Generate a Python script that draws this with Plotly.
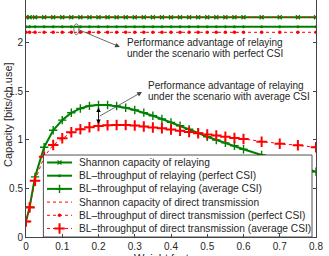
import plotly.graph_objects as go

# ---- data ----
rho = [0, 0.01, 0.025, 0.05, 0.075, 0.1, 0.125, 0.15, 0.175, 0.2, 0.225, 0.25,
       0.275, 0.3, 0.325, 0.35, 0.375, 0.4, 0.425, 0.45, 0.475, 0.5, 0.525,
       0.55, 0.575, 0.6, 0.65, 0.7, 0.75, 0.8]
shannon_relay_value = 2.265
bl_relay_perfect_value = 2.168
shannon_direct_value = 2.265
bl_direct_perfect_value = 2.11
bl_relay_average = [0.16, 0.31, 0.62, 0.925, 1.10, 1.205, 1.28, 1.325, 1.352, 1.36,
                    1.36, 1.35, 1.333, 1.309, 1.282, 1.25, 1.216, 1.182, 1.147, 1.11,
                    1.072, 1.034, 1.0, 0.97, 0.94, 0.905, 0.845, 0.785, 0.728, 0.673]
bl_direct_average = [0.16, 0.305, 0.58, 0.828, 0.948, 1.017, 1.079, 1.11, 1.131, 1.144,
                     1.152, 1.155, 1.155, 1.15, 1.14, 1.13, 1.12, 1.108, 1.095, 1.082,
                     1.07, 1.057, 1.045, 1.034, 1.02, 1.01, 0.983, 0.962, 0.945, 0.925]
x_ticks = [0, 0.1, 0.2, 0.3, 0.4, 0.5, 0.6, 0.7, 0.8]
x_tick_labels = ["0", "0.1", "0.2", "0.3", "0.4", "0.5", "0.6", "0.7", "0.8"]
y_ticks = [0, 0.5, 1, 1.5, 2]
y_tick_labels = ["0", "0.5", "1", "1.5", "2"]
legend_labels = [
    "Shannon capacity of relaying",
    "BL–throughput of relaying (perfect CSI)",
    "BL–throughput of relaying (average CSI)",
    "Shannon capacity of direct transmission",
    "BL–throughput of direct transmission (perfect CSI)",
    "BL–throughput of direct transmission (average CSI)",
]

GREEN = "#008000"
RED = "#ff0000"
FONT = "Liberation Sans, Arial, Helvetica, sans-serif"
TXT = "#262626"

styles = [
    dict(color=GREEN, dash="solid", width=2, symbol="x-thin", msize=4, mlw=1.2),
    dict(color=GREEN, dash="solid", width=2, symbol="circle", msize=3, mlw=0),
    dict(color=GREEN, dash="solid", width=2, symbol="cross-thin", msize=6, mlw=1.4),
    dict(color=RED, dash="dot", width=1, symbol=None, msize=0, mlw=0),
    dict(color=RED, dash="dot", width=1, symbol="circle", msize=3.5, mlw=0),
    dict(color=RED, dash="dot", width=1, symbol="cross-thin", msize=7.5, mlw=2),
]

series = [
    [shannon_relay_value] * len(rho),
    [bl_relay_perfect_value] * len(rho),
    bl_relay_average,
    [shannon_direct_value] * len(rho),
    [bl_direct_perfect_value] * len(rho),
    bl_direct_average,
]

fig = go.Figure()


def marker_for(s):
    if s["symbol"] is None:
        return None
    return dict(symbol=s["symbol"], size=s["msize"], color=s["color"],
                line=dict(color=s["color"], width=s["mlw"]))


for s, ys in zip(styles, series):
    mode = "lines+markers" if s["symbol"] else "lines"
    fig.add_trace(go.Scatter(
        x=rho, y=ys, mode=mode,
        line=dict(color=s["color"], dash=s["dash"], width=s["width"]),
        marker=marker_for(s), showlegend=False, hoverinfo="skip"))

# ---- hand-drawn legend box (covers curves like the original) ----
lx0, lx1, ly0, ly1 = 0.048, 0.789, 0.0, 0.845
fig.add_trace(go.Scatter(
    x=[lx0, lx1, lx1, lx0, lx0], y=[ly0, ly0, ly1, ly1, ly0],
    mode="lines", fill="toself", fillcolor="white",
    line=dict(color=TXT, width=0.8), showlegend=False, hoverinfo="skip"))

row_y = [0.768, 0.632, 0.496, 0.360, 0.224, 0.088]
sx0, sx1 = 0.058, 0.127
for s, ry, lab in zip(styles, row_y, legend_labels):
    fig.add_trace(go.Scatter(
        x=[sx0, sx1], y=[ry, ry], mode="lines",
        line=dict(color=s["color"], dash=s["dash"], width=s["width"]),
        showlegend=False, hoverinfo="skip"))
    if s["symbol"]:
        fig.add_trace(go.Scatter(
            x=[(sx0 + sx1) / 2], y=[ry], mode="markers",
            marker=marker_for(s), showlegend=False, hoverinfo="skip"))
    fig.add_annotation(x=0.141, y=ry, xref="x", yref="y", text=lab,
                       showarrow=False, xanchor="left", yanchor="middle",
                       font=dict(family=FONT, size=10.2, color=TXT))

# ---- annotations ----
ann_font = dict(family=FONT, size=10, color=TXT)
# perfect CSI
fig.add_shape(type="circle", xref="x", yref="y", x0=0.132, x1=0.146, y0=2.085, y1=2.197,
              line=dict(color="#555555", width=0.8))
fig.add_annotation(x=0.259, y=1.959, ax=0.141, ay=2.144, xref="x", yref="y",
                   axref="x", ayref="y", text="", showarrow=True, arrowhead=2,
                   arrowsize=1.2, arrowwidth=0.8, arrowcolor="#444444")
fig.add_annotation(x=0.273, y=2.003, xref="x", yref="y", text="Performance advantage of relaying",
                   showarrow=False, xanchor="left", yanchor="middle", font=ann_font)
fig.add_annotation(x=0.273, y=1.894, xref="x", yref="y", text="under the scenario with perfect CSI",
                   showarrow=False, xanchor="left", yanchor="middle", font=ann_font)
# average CSI
fig.add_annotation(x=0.2, y=1.165, ax=0.2, ay=1.35, xref="x", yref="y",
                   axref="x", ayref="y", text="", showarrow=True, arrowhead=2,
                   arrowside="end+start", arrowsize=1, arrowwidth=0.9, arrowcolor="black")
fig.add_annotation(x=0.32, y=1.495, ax=0.199, ay=1.237, xref="x", yref="y",
                   axref="x", ayref="y", text="", showarrow=True, arrowhead=2,
                   arrowsize=1.2, arrowwidth=0.8, arrowcolor="#444444")
fig.add_annotation(x=0.331, y=1.557, xref="x", yref="y", text="Performance advantage of relaying",
                   showarrow=False, xanchor="left", yanchor="middle", font=ann_font)
fig.add_annotation(x=0.331, y=1.446, xref="x", yref="y", text="under the scenario with average CSI",
                   showarrow=False, xanchor="left", yanchor="middle", font=ann_font)

# axis titles
fig.add_annotation(x=0.5, y=-0.055, xref="paper", yref="paper", text="Weight factor ρ",
                   showarrow=False, xanchor="center", yanchor="top",
                   font=dict(family=FONT, size=11, color=TXT))
fig.add_annotation(x=-0.062, y=0.515, xref="paper", yref="paper", text="Capacity [bits/ch.use]",
                   showarrow=False, textangle=-90, xanchor="center", yanchor="middle",
                   font=dict(family=FONT, size=11, color=TXT))

fig.update_layout(
    width=329, height=256,
    margin=dict(l=26, r=13, t=0, b=19),
    plot_bgcolor="white", paper_bgcolor="white",
    showlegend=False,
    font=dict(family=FONT, size=10, color=TXT),
)
fig.update_xaxes(range=[0, 0.8], tickvals=x_ticks, ticktext=x_tick_labels,
                 ticks="inside", ticklen=3, tickcolor="#444444",
                 showline=True, linecolor="#444444", linewidth=1, mirror=False,
                 showgrid=False, zeroline=False, tickfont=dict(size=10))
fig.update_yaxes(range=[0, 2.443], tickvals=y_ticks, ticktext=y_tick_labels,
                 ticks="inside", ticklen=3, tickcolor="#444444",
                 showline=True, linecolor="#444444", linewidth=1, mirror="ticks",
                 showgrid=False, zeroline=False, tickfont=dict(size=10))

fig.write_html("out.html",
               config={"displayModeBar": False},
               post_script="document.body.style.margin='0px';"
                           "document.body.style.overflow='hidden';")
